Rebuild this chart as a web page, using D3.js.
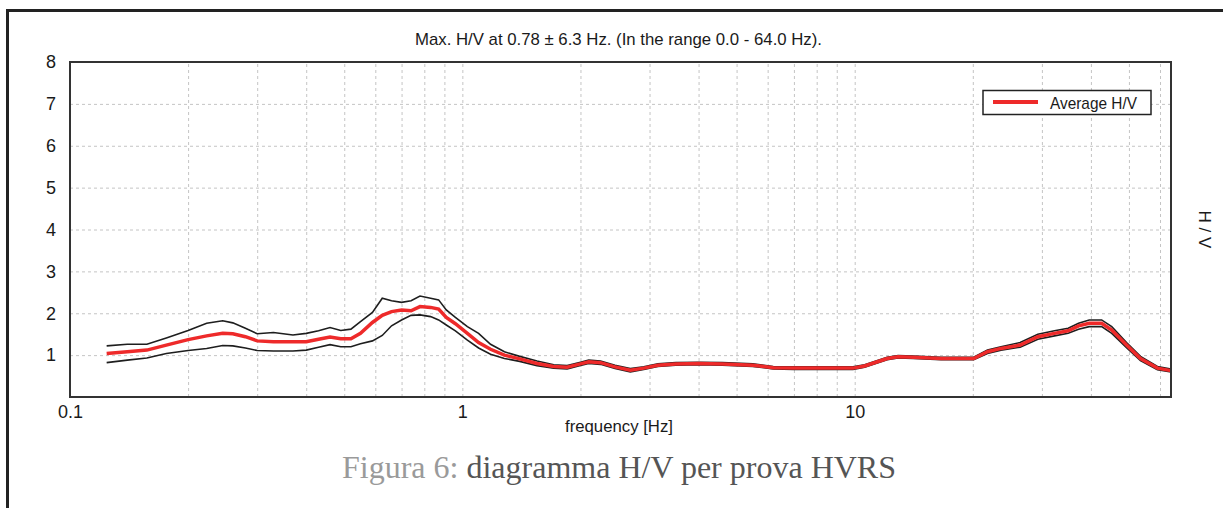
<!DOCTYPE html>
<html>
<head>
<meta charset="utf-8">
<script src="https://cdn.jsdelivr.net/npm/d3@7"></script>
<style>
  html, body { margin: 0; padding: 0; background: #fff; }
  svg { display: block; }
  .lbl { font-family: "Liberation Sans Narrow", "Liberation Sans", Arial, sans-serif; fill: #1a1a1a; }
</style>
</head>
<body>
<div class="chart"></div>
<script>
// frequency grid (Hz) shared by the three curves
const freq = [0.124, 0.14, 0.157, 0.176, 0.2, 0.223, 0.245, 0.26, 0.28, 0.3, 0.33, 0.37, 0.4, 0.43, 0.46, 0.49, 0.52, 0.55, 0.59, 0.625,
  0.66, 0.7, 0.74, 0.78, 0.83, 0.87, 0.91, 0.96, 1.03, 1.1, 1.18, 1.28, 1.4, 1.55, 1.71, 1.85, 2.0, 2.1, 2.25, 2.45,
  2.68, 2.9, 3.15, 3.5, 4.0, 4.6, 5.5, 6.2, 7.0, 8.2, 9.9, 10.6, 12.1, 12.9, 14.1, 16.6, 20.1, 21.8, 23.6, 26.4,
  29.3, 32.3, 35, 37.2, 39.6, 42.6, 45.2, 49.3, 53.5, 59.1, 64];

const avgHV = [1.04, 1.08, 1.12, 1.24, 1.37, 1.46, 1.52, 1.51, 1.44, 1.34, 1.32, 1.32, 1.32, 1.38, 1.43, 1.39, 1.39, 1.52, 1.78, 1.95,
  2.04, 2.08, 2.06, 2.16, 2.14, 2.1, 1.9, 1.75, 1.52, 1.3, 1.14, 1.0, 0.91, 0.8, 0.73, 0.71, 0.79, 0.84, 0.82, 0.72,
  0.64, 0.69, 0.76, 0.79, 0.8, 0.79, 0.76, 0.7, 0.69, 0.69, 0.69, 0.74, 0.92, 0.96, 0.95, 0.92, 0.92, 1.08, 1.16, 1.24,
  1.44, 1.52, 1.58, 1.7, 1.76, 1.76, 1.6, 1.24, 0.92, 0.69, 0.63];

const upperHV = [1.22, 1.26, 1.26, 1.41, 1.59, 1.76, 1.82, 1.77, 1.64, 1.51, 1.54, 1.48, 1.52, 1.58, 1.66, 1.59, 1.62, 1.8, 2.02, 2.36,
  2.3, 2.26, 2.3, 2.41, 2.36, 2.32, 2.08, 1.9, 1.68, 1.52, 1.26, 1.08, 0.97, 0.86, 0.77, 0.75, 0.83, 0.88, 0.86, 0.76,
  0.68, 0.72, 0.79, 0.82, 0.83, 0.82, 0.79, 0.73, 0.72, 0.72, 0.72, 0.77, 0.95, 0.99, 0.98, 0.95, 0.95, 1.12, 1.2, 1.3,
  1.5, 1.58, 1.64, 1.76, 1.84, 1.84, 1.68, 1.3, 0.97, 0.73, 0.67];

const lowerHV = [0.82, 0.88, 0.93, 1.04, 1.11, 1.16, 1.23, 1.22, 1.17, 1.11, 1.1, 1.1, 1.12, 1.19, 1.25, 1.2, 1.2, 1.27, 1.34, 1.47,
  1.7, 1.84, 1.95, 1.96, 1.92, 1.84, 1.72, 1.58, 1.36, 1.17, 1.02, 0.92, 0.85, 0.75, 0.69, 0.67, 0.75, 0.8, 0.78, 0.68,
  0.6, 0.66, 0.73, 0.76, 0.77, 0.76, 0.73, 0.67, 0.66, 0.66, 0.66, 0.71, 0.89, 0.93, 0.92, 0.89, 0.89, 1.04, 1.12, 1.19,
  1.38, 1.46, 1.52, 1.62, 1.68, 1.68, 1.52, 1.18, 0.87, 0.65, 0.6];

// axis ticks
const yTicks = [1, 2, 3, 4, 5, 6, 7, 8];
const xLabelTicks = [0.1, 1, 10];
const xGridTicks = [0.2, 0.3, 0.4, 0.5, 0.6, 0.7, 0.8, 0.9, 1, 2, 3, 4, 5, 6, 7, 8, 9, 10, 20, 30, 40, 50, 60];

const titleText = "Max. H/V at 0.78 \u00b1 6.3 Hz. (In the range 0.0 - 64.0 Hz).";

/* svg size and plot box */
const w = 1223, h = 508;
const pLeft = 70, pRight = 1171, pTop = 62, pBottom = 397;

const xScale = d3.scaleLog().domain([0.1, 64]).range([pLeft, pRight]);
const yScale = d3.scaleLinear().domain([0, 8]).range([pBottom, pTop]);

const svg = d3.select(".chart").append("svg")
  .attr("width", w)
  .attr("height", h);

/* outer figure frame (open to right and bottom) */
svg.append("rect")
  .attr("x", 7.5).attr("y", 10.5)
  .attr("width", 1400).attr("height", 700)
  .attr("fill", "none")
  .attr("stroke", "#222")
  .attr("stroke-width", 3);

/* grid lines */
const xGrid = d3.axisBottom(xScale).tickValues(xGridTicks).tickSize(-(pBottom - pTop)).tickFormat("");
const yGrid = d3.axisLeft(yScale).tickValues(yTicks.filter(d => d < 8)).tickSize(-(pRight - pLeft)).tickFormat("");

[svg.append("g").attr("transform", "translate(0," + pBottom + ")").call(xGrid),
 svg.append("g").attr("transform", "translate(" + pLeft + ",0)").call(yGrid)].forEach(g => {
  g.select(".domain").remove();
  g.selectAll("line")
    .attr("stroke", "#c4c4c4")
    .attr("stroke-dasharray", "3,3");
});

/* curves */
const line = d3.line()
  .x((d, i) => xScale(freq[i]))
  .y(d => yScale(d));

svg.append("path").datum(upperHV)
  .attr("d", line).attr("fill", "none")
  .attr("stroke", "#1e1e1e").attr("stroke-width", 1.6);
svg.append("path").datum(lowerHV)
  .attr("d", line).attr("fill", "none")
  .attr("stroke", "#1e1e1e").attr("stroke-width", 1.6);
svg.append("path").datum(avgHV)
  .attr("d", line).attr("fill", "none")
  .attr("stroke", "#ee2a2a").attr("stroke-width", 3.5);

/* plot frame */
svg.append("rect")
  .attr("x", pLeft).attr("y", pTop)
  .attr("width", pRight - pLeft).attr("height", pBottom - pTop)
  .attr("fill", "none")
  .attr("stroke", "#333")
  .attr("stroke-width", 2);

/* axis labels */
const yAxis = d3.axisLeft(yScale).tickValues(yTicks).tickSize(0).tickPadding(14);
const ya = svg.append("g").attr("transform", "translate(" + pLeft + ",0)").call(yAxis);
ya.select(".domain").remove();
ya.selectAll("text").attr("class", "lbl").attr("font-size", 18).attr("fill", "#1a1a1a");

const xAxis = d3.axisBottom(xScale).tickValues(xLabelTicks).tickSize(0).tickPadding(8)
  .tickFormat(d => d3.format("")(d));
const xa = svg.append("g").attr("transform", "translate(0," + pBottom + ")").call(xAxis);
xa.select(".domain").remove();
xa.selectAll("text").attr("class", "lbl").attr("font-size", 18).attr("fill", "#1a1a1a");

/* title */
svg.append("text").attr("class", "lbl")
  .attr("x", 415).attr("y", 45)
  .attr("font-size", 17)
  .attr("textLength", 407).attr("lengthAdjust", "spacingAndGlyphs")
  .text(titleText);

/* x axis title */
svg.append("text").attr("class", "lbl")
  .attr("x", 565).attr("y", 432)
  .attr("font-size", 17)
  .attr("textLength", 108).attr("lengthAdjust", "spacingAndGlyphs")
  .text("frequency [Hz]");

/* right-hand y axis title */
svg.append("text").attr("class", "lbl")
  .attr("transform", "translate(1199," + ((pTop + pBottom) / 2) + ") rotate(90)")
  .attr("text-anchor", "middle")
  .attr("font-size", 17)
  .text("H / V");

/* legend */
const legend = svg.append("g");
legend.append("rect")
  .attr("x", 983).attr("y", 90.5)
  .attr("width", 168).attr("height", 24)
  .attr("fill", "#fff")
  .attr("stroke", "#222")
  .attr("stroke-width", 1.5);
legend.append("line")
  .attr("x1", 993).attr("x2", 1038)
  .attr("y1", 102).attr("y2", 102)
  .attr("stroke", "#ee2a2a").attr("stroke-width", 4);
legend.append("text").attr("class", "lbl")
  .attr("x", 1050).attr("y", 109)
  .attr("font-size", 17)
  .attr("textLength", 87).attr("lengthAdjust", "spacingAndGlyphs")
  .text("Average H/V");

/* figure caption */
const caption = svg.append("text")
  .attr("x", 342).attr("y", 478)
  .attr("font-family", "'Liberation Serif', 'Times New Roman', serif")
  .attr("font-size", 32);
caption.append("tspan").attr("fill", "#9a9a9a").text("Figura 6: ");
caption.append("tspan").attr("fill", "#555").text("diagramma H/V per prova HVRS");
</script>
</body>
</html>
